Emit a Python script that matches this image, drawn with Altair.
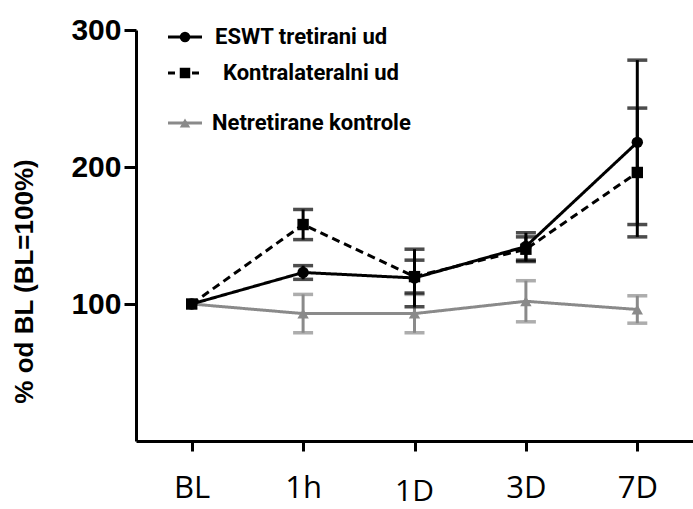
import altair as alt
import pandas as pd

# Time points and group names
time_labels = ["BL", "1h", "1D", "3D", "7D"]
series_names = ["ESWT tretirani ud", "Kontralateralni ud", "Netretirane kontrole"]

# Mean values (% of baseline) and error half-widths per group
eswt_mean = [100, 123, 119, 142, 218]
eswt_err = [0, 5, 21, 10, 60]
kontra_mean = [100, 158, 120, 140, 196]
kontra_err = [0, 11, 12, 9, 47]
ctrl_mean = [100, 93, 93, 102, 96]
ctrl_err = [0, 14, 14, 15, 10]

y_ticks = [100, 200, 300]

rows = []
for name, means, errs in [
    (series_names[0], eswt_mean, eswt_err),
    (series_names[1], kontra_mean, kontra_err),
    (series_names[2], ctrl_mean, ctrl_err),
]:
    for t, m, e in zip(time_labels, means, errs):
        rows.append({"time": t, "group": name, "mean": m, "err": e,
                     "lo": m - e, "hi": m + e})
df = pd.DataFrame(rows)

BLACK = "#000000"
GREY = "#8a8a8a"
W, H = 557, 411

x_enc = alt.X("time:N", sort=time_labels,
              scale=alt.Scale(type="point", domain=time_labels, padding=0.5),
              axis=alt.Axis(title=None, labelAngle=0, domainWidth=3, domainColor=BLACK,
                            tickWidth=3, tickColor=BLACK, tickSize=10,
                            labelFont="Open Sans", labelFontSize=31, labelColor=BLACK,
                            labelBaseline="alphabetic", labelPadding=46,
                            labelExpr="datum.value == '1D' ? '' : datum.value"))
y_scale = alt.Scale(domain=[0, 300], nice=False, zero=True)
y_enc = alt.Y("mean:Q", scale=y_scale,
              axis=alt.Axis(title="% od BL (BL=100%)", values=y_ticks, format="d",
                            domainWidth=3, domainColor=BLACK,
                            tickWidth=3, tickColor=BLACK, tickSize=12,
                            labelFont="Liberation Sans", labelFontWeight="bold",
                            labelFontSize=30, labelColor=BLACK, labelPadding=3,
                            titleFont="Liberation Sans", titleFontWeight="bold",
                            titleFontSize=26, titleColor=BLACK, titleAngle=270,
                            titleAlign="center", titleBaseline="middle",
                            titleX=-112, titleY=251))

color_scale = alt.Scale(domain=series_names, range=[BLACK, BLACK, GREY])
dash_scale = alt.Scale(domain=series_names, range=[[1, 0], [8, 5], [1, 0]])
shape_scale = alt.Scale(domain=series_names, range=["circle", "square", "triangle-up"])

layers = []
for name in [series_names[2], series_names[1], series_names[0]]:
    sub = alt.Chart(df).transform_filter(alt.datum.group == name)
    line = sub.mark_line(strokeWidth=3).encode(
        x=x_enc, y=y_enc,
        color=alt.Color("group:N", scale=color_scale, legend=None),
        strokeDash=alt.StrokeDash("group:N", scale=dash_scale, legend=None),
    )
    bars = sub.transform_filter(alt.datum.err > 0)
    stem = bars.mark_rule(strokeWidth=3).encode(
        x=alt.X("time:N", sort=time_labels),
        y=alt.Y("lo:Q", scale=y_scale), y2="hi:Q",
        color=alt.Color("group:N", scale=color_scale, legend=None),
    )
    cap_lo = bars.mark_tick(size=20, thickness=3.5).encode(
        x=alt.X("time:N", sort=time_labels),
        y=alt.Y("lo:Q", scale=y_scale),
        color=alt.Color("group:N", scale=color_scale, legend=None),
    )
    cap_hi = bars.mark_tick(size=20, thickness=3.5).encode(
        x=alt.X("time:N", sort=time_labels),
        y=alt.Y("hi:Q", scale=y_scale),
        color=alt.Color("group:N", scale=color_scale, legend=None),
    )
    pts = sub.mark_point(filled=True, size=130, opacity=1).encode(
        x=alt.X("time:N", sort=time_labels), y=alt.Y("mean:Q", scale=y_scale),
        color=alt.Color("group:N", scale=color_scale, legend=None),
        shape=alt.Shape("group:N", scale=shape_scale, legend=None),
    )
    layers += [line, stem, cap_lo, cap_hi, pts]

# The "1D" label sits a little lower than the other tick labels
label_1d = alt.Chart(pd.DataFrame({"time": ["1D"]})).mark_text(
    font="Open Sans", fontSize=30, color=BLACK, baseline="alphabetic", dy=4
).encode(x=alt.X("time:N", sort=time_labels), y=alt.value(H + 10 + 46), text="time:N")
layers.append(label_1d)

# Hand-drawn legend in the upper left corner of the plot
legend_rows = [7, 43, 93]
legend_text_x = [79, 87, 76]
legend_colors = [BLACK, BLACK, GREY]
legend_dash = [[1, 0], [7, 5], [1, 0]]
legend_shapes = ["circle", "square", "triangle-up"]
one = pd.DataFrame({"k": [0]})
for i, name in enumerate(series_names):
    yv = legend_rows[i]
    layers.append(alt.Chart(one).mark_rule(
        strokeWidth=3, color=legend_colors[i], strokeDash=legend_dash[i]
    ).encode(x=alt.value(32), x2=alt.value(66), y=alt.value(yv)))
    layers.append(alt.Chart(one).mark_point(
        filled=True, size=110, opacity=1, color=legend_colors[i], shape=legend_shapes[i]
    ).encode(x=alt.value(49), y=alt.value(yv)))
    layers.append(alt.Chart(pd.DataFrame({"label": [name]})).mark_text(
        font="Roboto", fontWeight="bold", fontSize=22,
        color=BLACK, align="left", baseline="middle"
    ).encode(x=alt.value(legend_text_x[i]), y=alt.value(yv), text="label:N"))

chart = alt.layer(*layers).properties(
    width=W, height=H,
    padding={"left": 136, "top": 30, "right": 0, "bottom": 68},
    autosize=alt.AutoSizeParams(type="none"),
    background="white",
).configure_view(stroke=None).configure_axis(grid=False)

chart.save("out.html", embed_options={"renderer": "svg", "actions": False})
